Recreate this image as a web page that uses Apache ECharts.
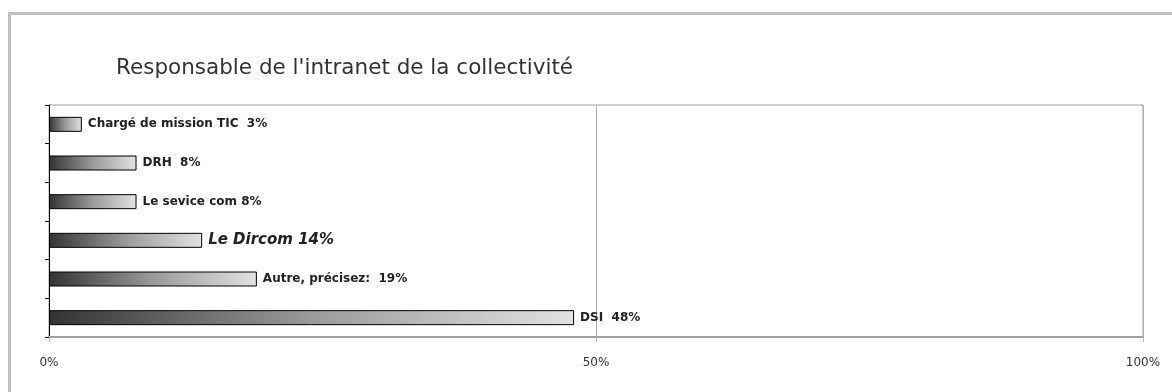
<!DOCTYPE html>
<html>
<head>
<meta charset="utf-8">
<script src="https://cdn.jsdelivr.net/npm/echarts@6/dist/echarts.min.js"></script>
<style>
  html, body { margin: 0; padding: 0; background: #fff; }
  #chart { width: 1172px; height: 392px; }
</style>
</head>
<body>
<div id="chart"></div>
<script>
// Survey answers, top to bottom
const categories = ['Chargé de mission TIC ', 'DRH ', 'Le sevice com', 'Le Dircom', 'Autre, précisez: ', 'DSI '];
const values = [3, 8, 8, 14, 19, 48];
const xTicks = [0, 50, 100];
const titleText = "Responsable de l'intranet de la collectivité";

const chart = echarts.init(document.getElementById('chart'));
const font = '"DejaVu Sans", sans-serif';

chart.setOption({
  animation: false,
  title: {
    text: titleText,
    left: 116,
    top: 57,
    padding: 0,
    textStyle: { fontFamily: font, fontSize: 21.5, fontWeight: 'normal', color: '#333' }
  },
  graphic: [{
    type: 'rect',
    shape: { x: 9.5, y: 13.5, width: 1180, height: 400 },
    style: { fill: 'none', stroke: '#c0c0c0', lineWidth: 3 },
    silent: true
  }],
  grid: {
    left: 49, right: 29, top: 105, bottom: 55,
    show: true, borderColor: '#a0a0a0', borderWidth: 1, backgroundColor: 'transparent'
  },
  xAxis: {
    type: 'value',
    min: xTicks[0], max: xTicks[xTicks.length - 1], interval: 50,
    axisLine: { show: true, lineStyle: { color: '#a0a0a0', width: 2 } },
    axisTick: { show: true, length: 5, lineStyle: { color: '#c0c0c0', width: 1 } },
    splitLine: { show: true, lineStyle: { color: '#b0b0b0', width: 1 } },
    axisLabel: {
      formatter: v => v + '%',
      fontFamily: font, fontSize: 12, color: '#333', margin: 20
    }
  },
  yAxis: {
    type: 'category',
    data: categories,
    inverse: true,
    axisLine: { show: true, lineStyle: { color: '#000', width: 1 } },
    axisTick: { show: true, length: 4, lineStyle: { color: '#000' } },
    axisLabel: { show: false },
    splitLine: { show: false }
  },
  series: [{
    type: 'bar',
    data: values,
    barWidth: 15,
    itemStyle: {
      color: new echarts.graphic.LinearGradient(0, 0, 1, 0, [
        { offset: 0, color: '#333333' },
        { offset: 0.5, color: '#9a9a9a' },
        { offset: 1, color: '#e2e2e2' }
      ]),
      borderColor: '#000',
      borderWidth: 1
    },
    label: {
      show: true,
      position: 'right',
      distance: 6,
      fontFamily: font,
      fontSize: 12,
      fontWeight: 'bold',
      color: '#222',
      formatter: p => p.name === 'Le Dircom'
        ? '{it|' + p.name + ' ' + p.value + '%}'
        : p.name + ' ' + p.value + '%',
      rich: {
        it: { fontFamily: font, fontSize: 15, fontWeight: 'bold', fontStyle: 'italic', color: '#222' }
      }
    }
  }]
});
</script>
</body>
</html>
